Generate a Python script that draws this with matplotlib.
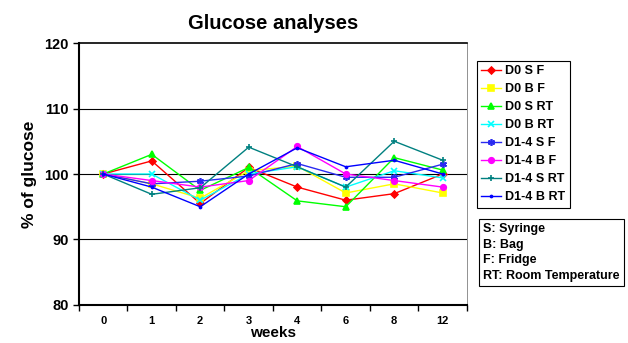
import numpy as np
import matplotlib
matplotlib.use("Agg")
import matplotlib.pyplot as plt

plt.rcParams['font.family'] = ['Liberation Sans', 'DejaVu Sans']
plt.rcParams['font.weight'] = 'bold'

# weeks of storage (plotted as evenly spaced categories)
weeks = ['0', '1', '2', '3', '4', '6', '8', '12']

# % of glucose remaining for each sample group
d0_s_f = [100, 102.0, 95.5, 101.0, 98.0, 96.0, 97.0, 100.0]
d0_b_f = [100, 98.5, 96.3, 100.5, 101.2, 97.1, 98.5, 97.1]
d0_s_rt = [100, 103.0, 97.5, 101.0, 95.9, 95.0, 102.5, 100.6]
d0_b_rt = [100, 100.0, 96.0, 100.0, 101.1, 98.0, 100.5, 99.4]
d14_s_f = [100, 98.5, 98.9, 99.7, 101.6, 99.5, 99.5, 101.5]
d14_b_f = [100, 99.0, 98.0, 99.0, 104.2, 100.0, 99.0, 98.0]
d14_s_rt = [100, 96.9, 97.9, 104.1, 101.1, 98.0, 105.0, 102.1]
d14_b_rt = [100, 98.0, 95.0, 100.0, 104.0, 101.1, 102.1, 100.0]

# asterisk marker: 6-armed star
star = (6, 2, 0)

series = [
    ('D0 S F', d0_s_f, '#FF0000', 'D', 3.5),
    ('D0 B F', d0_b_f, '#FFFF00', 's', 4),
    ('D0 S RT', d0_s_rt, '#00FF00', '^', 4),
    ('D0 B RT', d0_b_rt, '#00FFFF', 'x', 4),
    ('D1-4 S F', d14_s_f, '#2A2AF0', star, 5),
    ('D1-4 B F', d14_b_f, '#FF00FF', 'o', 4),
    ('D1-4 S RT', d14_s_rt, '#008080', '+', 5),
    ('D1-4 B RT', d14_b_rt, '#0000FF', '.', 3),
]

fig = plt.figure(figsize=(6.28, 3.43), dpi=100)
ax = fig.add_axes([0.1258, 0.1108, 0.6178, 0.7638])

x = np.arange(len(weeks))
for gy in [90, 100, 110]:
    ax.axhline(gy, color='black', lw=0.8, zorder=1)

for name, vals, col, mk, ms in series:
    ax.plot(x, vals, color=col, marker=mk, ms=ms, lw=1.0, mew=1.2,
            label=name, zorder=3)

ax.set_xlim(-0.5, len(weeks) - 0.5)
ax.set_ylim(80, 120)
ax.set_yticks([80, 90, 100, 110, 120])
ax.set_xticks(x)
ax.set_xticklabels(weeks, fontsize=8, fontweight='bold')
ax.set_xticks(np.arange(-0.5, len(weeks)), minor=True)
ax.tick_params(axis='x', which='major', length=0, pad=8)
ax.tick_params(axis='x', which='minor', length=4, direction='out', width=1)
ax.tick_params(axis='y', length=4, direction='out', labelsize=10.5, width=1)
for lab in ax.get_yticklabels():
    lab.set_fontweight('bold')

ax.spines['left'].set_linewidth(1.5)
ax.spines['bottom'].set_linewidth(1.5)
ax.spines['top'].set_linewidth(1.2)
ax.spines['right'].set_linewidth(0.6)
ax.spines['right'].set_color('#808080')

ax.set_title('Glucose analyses', fontsize=14.5, fontweight='bold', pad=10)
ax.set_ylabel('% of glucose', fontsize=12.5, fontweight='bold', labelpad=5)
ax.set_xlabel('weeks', fontsize=11, fontweight='bold', labelpad=0)

leg = fig.legend(loc='upper left', bbox_to_anchor=(0.7595, 0.822),
                 fontsize=9, frameon=True, fancybox=False, edgecolor='black',
                 framealpha=1, borderpad=0.35, labelspacing=0.48,
                 handlelength=1.6, handletextpad=0.3, borderaxespad=0)
leg.get_frame().set_linewidth(0.8)
for t in leg.get_texts():
    t.set_fontweight('bold')

fig.text(0.769, 0.178, 'S: Syringe\nB: Bag\nF: Fridge\nRT: Room Temperature',
         fontsize=9, fontweight='bold', va='bottom', ha='left', linespacing=1.4,
         bbox=dict(boxstyle='square,pad=0.35', fc='white', ec='black', lw=0.8))

fig.savefig('out.png', dpi=100)
